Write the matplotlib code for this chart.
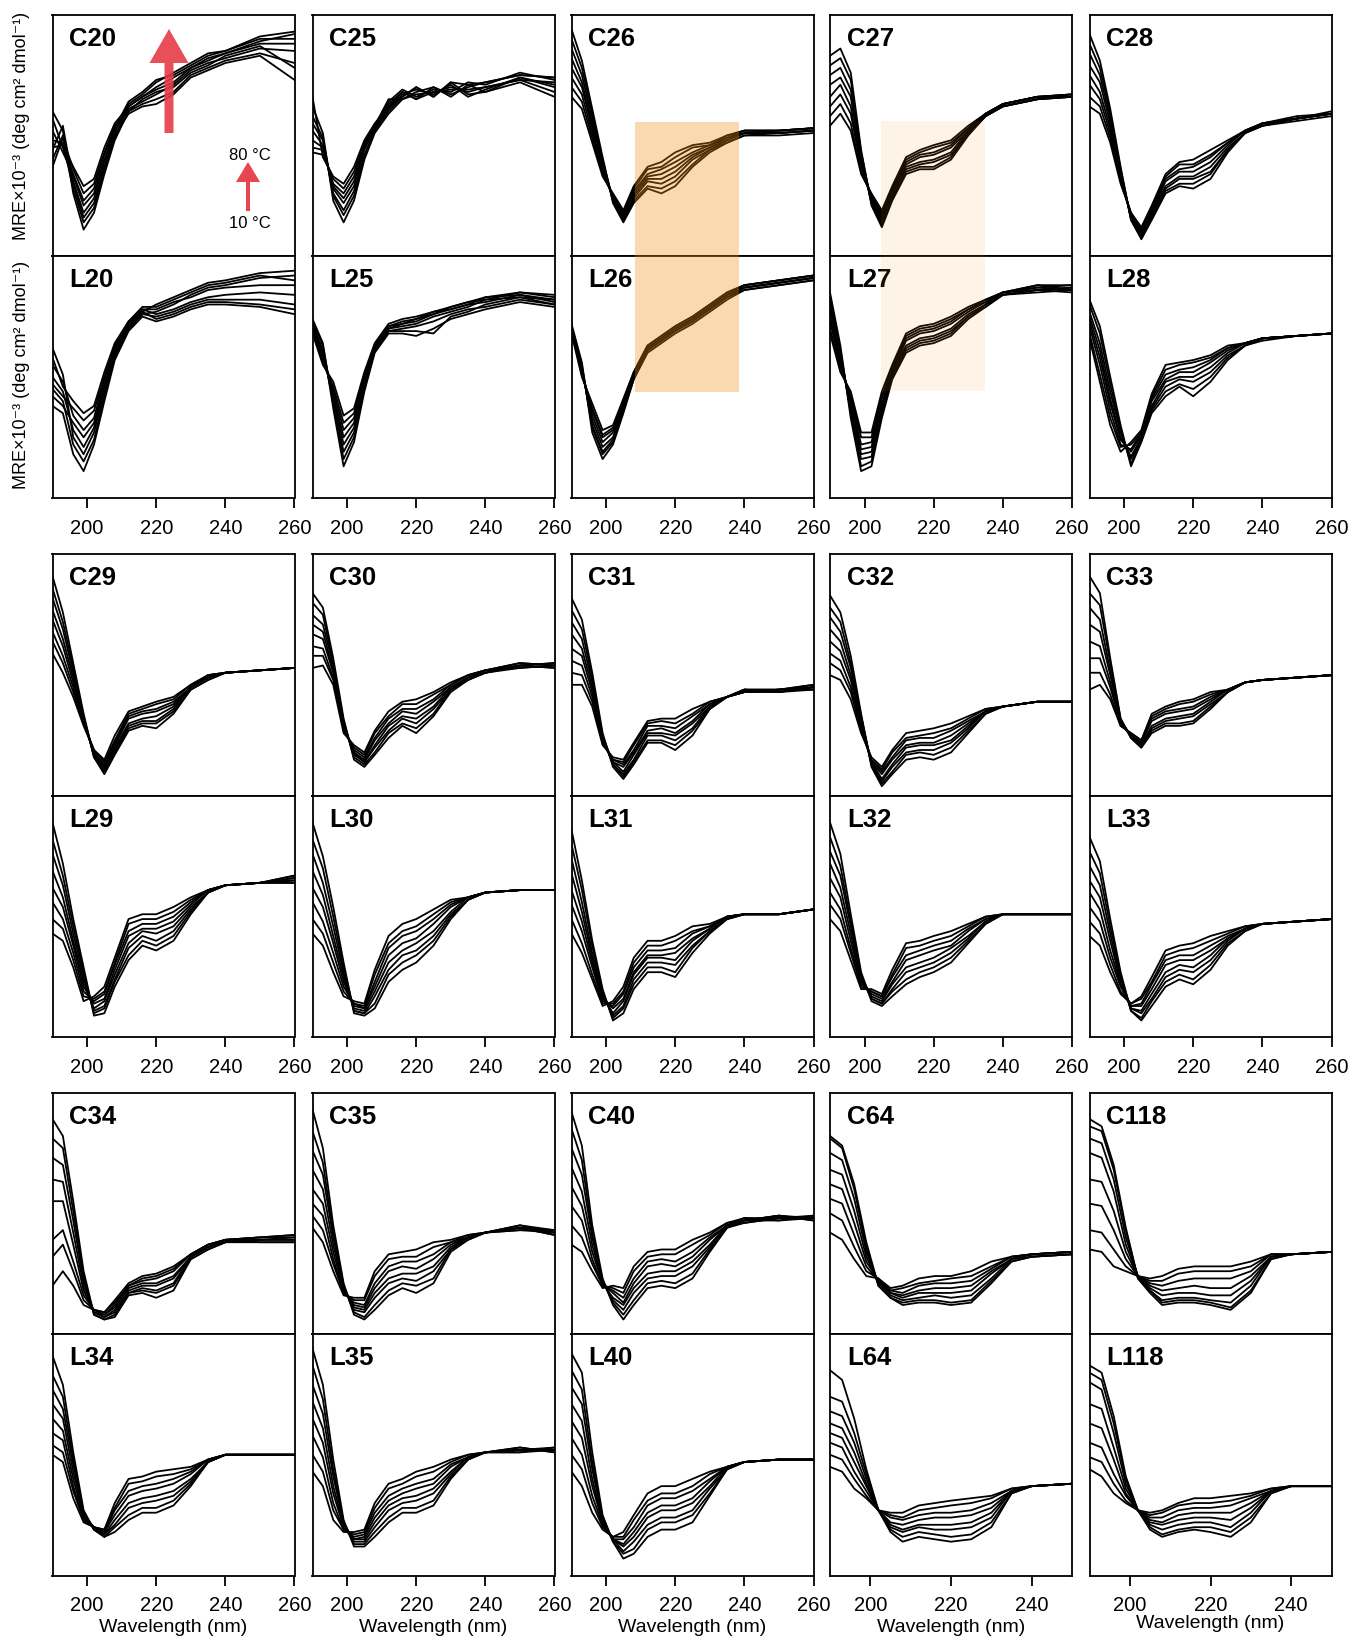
import numpy as np
import matplotlib
matplotlib.use('Agg')
import matplotlib.pyplot as plt
from matplotlib.patches import Rectangle, FancyArrow

plt.rcParams['font.family'] = ['Liberation Sans', 'DejaVu Sans']

# wavelength grid (nm); each panel table: rows = wavelength, columns = 10..80 C
WL = [190, 193, 196, 199, 202, 205, 208, 212, 216, 220, 225, 230, 235, 240, 250, 260]
TEMPS = [10, 20, 30, 40, 50, 60, 70, 80]
# values are read off the picture as % of panel height (no y scale shown)

C20 = [[60, 48, 44, 57, 40, 52, 37, 45], [52, 47, 54, 45, 50, 43, 49, 46], [26, 28, 30, 31, 33, 34, 36, 37],
       [11, 14, 16, 18, 21, 23, 26, 29], [18, 20, 22, 24, 26, 28, 30, 32], [34, 36, 37, 39, 40, 42, 43, 45],
       [48, 49, 50, 51, 52, 53, 54, 55], [60, 62, 59, 63, 61, 64, 60, 62], [63, 66, 62, 67, 64, 68, 65, 66],
       [65, 70, 63, 72, 67, 73, 68, 69], [68, 74, 67, 76, 71, 75, 70, 72], [75, 78, 74, 80, 77, 79, 76, 78],
       [78, 82, 77, 84, 80, 83, 79, 81], [81, 84, 80, 85, 82, 85, 83, 84], [84, 89, 83, 91, 86, 90, 87, 88],
       [80, 92, 73, 93, 85, 90, 78, 88]]
L20 = [[38, 45, 62, 50, 42, 55, 47, 58], [35, 40, 51, 44, 38, 48, 42, 46], [18, 22, 25, 28, 31, 34, 37, 40],
       [11, 15, 18, 21, 25, 28, 32, 35], [22, 24, 27, 29, 31, 33, 36, 38], [40, 42, 44, 46, 47, 49, 50, 52],
       [57, 58, 59, 60, 61, 62, 63, 64], [69, 70, 70, 71, 72, 72, 73, 73], [75, 76, 76, 77, 77, 78, 78, 79],
       [73, 77, 75, 80, 74, 78, 76, 79], [75, 80, 77, 83, 76, 81, 78, 82], [78, 84, 80, 86, 79, 83, 81, 85],
       [80, 87, 82, 89, 81, 86, 83, 88], [80, 88, 82, 90, 81, 87, 84, 89], [79, 91, 82, 93, 80, 88, 85, 92],
       [76, 92, 80, 94, 78, 88, 84, 90]]
C25 = [[62, 58, 55, 52, 48, 45, 43, 66], [51, 49, 48, 46, 45, 44, 42, 41], [23, 25, 26, 28, 29, 30, 32, 33],
       [14, 17, 19, 22, 24, 26, 28, 30], [23, 25, 27, 29, 31, 33, 35, 37], [40, 41, 42, 44, 45, 46, 47, 48],
       [51, 52, 52, 53, 53, 54, 54, 55], [59, 62, 60, 64, 61, 65, 63, 62], [65, 68, 66, 69, 67, 65, 68, 66],
       [67, 65, 70, 66, 69, 68, 65, 70], [68, 70, 66, 69, 67, 70, 68, 66], [70, 66, 72, 68, 71, 67, 69, 72],
       [68, 71, 67, 72, 66, 70, 69, 71], [70, 72, 68, 71, 69, 72, 70, 68], [73, 75, 72, 76, 74, 75, 73, 74],
       [72, 74, 66, 73, 70, 74, 68, 71]]
L25 = [[74, 73, 72, 71, 70, 70, 69, 68], [64, 63, 61, 60, 59, 57, 56, 55], [37, 39, 40, 42, 43, 45, 46, 48],
       [13, 16, 19, 22, 25, 28, 31, 34], [23, 25, 27, 29, 31, 33, 35, 37], [44, 45, 46, 47, 49, 50, 51, 52],
       [60, 61, 61, 62, 62, 63, 63, 64], [68, 69, 69, 70, 70, 71, 71, 72], [68, 69, 70, 71, 72, 72, 73, 74],
       [67, 69, 71, 72, 73, 74, 74, 75], [70, 68, 73, 75, 76, 77, 76, 77], [74, 75, 76, 77, 78, 78, 79, 79],
       [76, 77, 78, 79, 80, 80, 81, 81], [78, 80, 79, 82, 81, 83, 82, 83], [81, 83, 82, 85, 84, 85, 83, 84],
       [79, 82, 80, 84, 81, 83, 80, 82]]
C26 = [[94, 90, 86, 82, 78, 74, 70, 66], [81, 78, 75, 72, 70, 67, 64, 61], [61, 59, 57, 55, 53, 51, 49, 47],
       [41, 40, 39, 38, 36, 35, 34, 33], [22, 23, 23, 24, 24, 25, 25, 26], [14, 15, 15, 16, 17, 18, 18, 19],
       [22, 23, 24, 25, 26, 27, 28, 29], [28, 29, 31, 32, 33, 34, 36, 37], [26, 28, 30, 32, 34, 36, 37, 39],
       [29, 31, 33, 35, 37, 39, 41, 43], [37, 38, 40, 41, 42, 43, 45, 46], [43, 44, 44, 45, 45, 46, 46, 47],
       [47, 47, 48, 48, 49, 49, 50, 50], [50, 50, 51, 51, 51, 52, 52, 52], [50, 51, 51, 51, 52, 52, 52, 52],
       [51, 52, 52, 52, 53, 53, 53, 53]]
L26 = [[72, 71, 71, 70, 70, 69, 69, 68], [56, 55, 54, 53, 53, 52, 51, 50], [27, 29, 30, 32, 34, 36, 37, 39],
       [16, 18, 19, 21, 23, 25, 26, 28], [22, 23, 24, 25, 27, 28, 29, 30], [35, 36, 37, 38, 38, 39, 40, 41],
       [49, 49, 50, 50, 51, 51, 52, 52], [60, 61, 61, 62, 62, 62, 63, 63], [64, 65, 65, 66, 66, 66, 67, 67],
       [68, 69, 69, 70, 70, 70, 71, 71], [72, 73, 73, 74, 74, 74, 75, 75], [77, 78, 78, 79, 79, 79, 80, 80],
       [82, 83, 83, 84, 84, 84, 85, 85], [86, 86, 87, 87, 87, 88, 88, 88], [88, 88, 89, 89, 89, 90, 90, 90],
       [90, 90, 91, 91, 91, 92, 92, 92]]
C27 = [[83, 79, 75, 71, 66, 62, 58, 54], [86, 82, 78, 74, 71, 67, 63, 59], [76, 73, 69, 66, 62, 59, 55, 52],
       [44, 43, 41, 40, 38, 37, 35, 34], [21, 22, 22, 23, 24, 25, 25, 26], [12, 13, 14, 15, 16, 17, 18, 19],
       [23, 24, 25, 26, 26, 27, 28, 29], [34, 35, 36, 37, 38, 39, 40, 41], [36, 37, 38, 39, 41, 42, 43, 44],
       [36, 37, 39, 40, 42, 43, 45, 46], [40, 41, 42, 43, 45, 46, 47, 48], [50, 51, 51, 52, 52, 53, 53, 54],
       [58, 58, 58, 58, 59, 59, 59, 59], [62, 62, 62, 63, 63, 63, 63, 63], [65, 65, 65, 66, 66, 66, 66, 66],
       [66, 66, 66, 67, 66, 67, 66, 67]]
L27 = [[85, 83, 80, 78, 75, 73, 70, 68], [63, 61, 60, 58, 57, 55, 54, 52], [33, 35, 36, 38, 39, 41, 42, 44],
       [11, 13, 16, 18, 20, 22, 25, 27], [13, 15, 17, 19, 21, 23, 25, 27], [33, 35, 36, 38, 39, 41, 42, 44],
       [49, 50, 51, 52, 52, 53, 54, 55], [60, 61, 62, 63, 65, 66, 67, 68], [63, 64, 65, 66, 68, 69, 70, 71],
       [64, 65, 66, 67, 69, 70, 71, 72], [67, 68, 69, 70, 72, 73, 74, 75], [74, 75, 75, 76, 77, 78, 78, 79],
       [79, 79, 80, 80, 81, 81, 82, 82], [84, 84, 84, 85, 85, 85, 85, 85], [85, 86, 86, 87, 87, 88, 86, 88],
       [86, 87, 85, 88, 86, 88, 87, 86]]
C28 = [[92, 88, 84, 79, 75, 71, 66, 62], [81, 78, 75, 72, 68, 65, 62, 59], [61, 59, 57, 55, 53, 51, 49, 47],
       [37, 36, 35, 34, 33, 32, 31, 30], [15, 15, 16, 16, 17, 17, 18, 18], [7, 8, 9, 9, 10, 11, 11, 12],
       [15, 16, 17, 18, 18, 19, 20, 21], [26, 27, 28, 29, 31, 32, 33, 34], [29, 30, 32, 33, 35, 36, 38, 39],
       [28, 30, 32, 33, 35, 37, 38, 40], [32, 34, 35, 37, 39, 41, 42, 44], [43, 44, 44, 45, 46, 47, 47, 48],
       [51, 51, 51, 51, 52, 52, 52, 52], [54, 54, 54, 55, 55, 55, 55, 55], [56, 57, 57, 57, 57, 58, 57, 57],
       [58, 59, 59, 59, 59, 59, 60, 59]]
L28 = [[82, 80, 77, 75, 73, 71, 68, 66], [71, 68, 64, 61, 58, 55, 51, 48], [50, 47, 44, 41, 39, 36, 33, 30],
       [30, 28, 27, 25, 24, 22, 21, 19], [13, 14, 16, 17, 19, 20, 22, 23], [23, 24, 24, 25, 26, 27, 27, 28],
       [35, 36, 37, 38, 40, 41, 42, 43], [42, 44, 46, 48, 49, 51, 53, 55], [46, 47, 49, 50, 52, 53, 55, 56],
       [42, 45, 48, 50, 52, 54, 56, 57], [48, 50, 52, 54, 56, 57, 58, 59], [57, 58, 59, 60, 61, 62, 62, 63],
       [63, 63, 63, 64, 64, 64, 64, 64], [65, 66, 66, 66, 66, 66, 66, 66], [67, 67, 67, 67, 67, 67, 67, 67],
       [68, 68, 68, 68, 68, 68, 68, 68]]

C29 = [[91, 86, 82, 77, 73, 68, 64, 59], [76, 72, 69, 65, 62, 58, 55, 51], [55, 53, 51, 49, 47, 45, 43, 41],
       [34, 33, 32, 32, 31, 30, 30, 29], [16, 16, 17, 17, 18, 18, 19, 19], [9, 10, 11, 12, 12, 13, 14, 15],
       [17, 18, 19, 20, 21, 22, 23, 25], [27, 28, 29, 30, 32, 33, 34, 35], [29, 30, 31, 32, 34, 35, 36, 37],
       [28, 30, 31, 33, 35, 36, 38, 39], [34, 35, 36, 37, 38, 39, 40, 41], [44, 44, 45, 45, 45, 45, 46, 46],
       [48, 48, 49, 49, 49, 50, 50, 50], [51, 51, 51, 51, 51, 51, 51, 51], [52, 52, 52, 52, 52, 52, 52, 52],
       [53, 53, 53, 53, 53, 53, 53, 53]]
L29 = [[89, 82, 76, 69, 62, 56, 49, 43], [72, 67, 63, 58, 54, 49, 45, 40], [49, 46, 43, 40, 38, 35, 32, 29],
       [29, 27, 25, 23, 21, 19, 17, 15], [9, 10, 11, 12, 14, 15, 16, 17], [10, 12, 13, 15, 16, 18, 19, 21],
       [21, 23, 24, 26, 28, 30, 31, 33], [32, 34, 37, 39, 42, 44, 47, 49], [38, 40, 42, 44, 45, 47, 49, 51],
       [36, 38, 40, 43, 45, 47, 49, 51], [40, 42, 44, 46, 48, 50, 52, 54], [51, 52, 53, 54, 55, 56, 57, 58],
       [60, 60, 60, 60, 61, 61, 61, 61], [63, 63, 63, 63, 63, 63, 63, 63], [64, 64, 64, 64, 64, 64, 64, 64],
       [64, 65, 67, 66, 64, 65, 66, 67]]
C30 = [[84, 80, 75, 71, 67, 62, 58, 53], [78, 75, 71, 68, 65, 61, 58, 54], [57, 55, 54, 52, 51, 49, 48, 46],
       [32, 31, 30, 29, 29, 28, 27, 26], [15, 16, 17, 18, 18, 19, 20, 21], [12, 13, 14, 14, 15, 16, 17, 18],
       [17, 18, 20, 21, 23, 24, 26, 27], [24, 26, 27, 29, 30, 32, 33, 35], [29, 30, 32, 33, 35, 36, 38, 39],
       [26, 28, 30, 32, 34, 36, 38, 40], [33, 34, 36, 37, 39, 40, 42, 43], [43, 44, 44, 45, 45, 46, 46, 47],
       [48, 48, 49, 49, 49, 50, 50, 50], [51, 51, 51, 52, 51, 52, 52, 52], [53, 54, 54, 55, 54, 53, 54, 55],
       [54, 55, 53, 54, 55, 54, 53, 54]]
L30 = [[89, 82, 76, 69, 62, 56, 49, 43], [75, 70, 64, 59, 54, 48, 43, 38], [54, 50, 46, 42, 39, 35, 31, 27],
       [31, 29, 27, 25, 23, 21, 19, 17], [10, 11, 11, 12, 13, 14, 14, 15], [9, 10, 10, 11, 12, 12, 13, 14],
       [12, 14, 17, 19, 21, 23, 26, 28], [23, 26, 28, 31, 34, 37, 39, 42], [28, 31, 34, 36, 39, 42, 44, 47],
       [31, 34, 36, 39, 41, 44, 46, 49], [38, 40, 42, 44, 47, 49, 51, 53], [49, 50, 51, 52, 54, 55, 56, 57],
       [57, 57, 57, 58, 58, 58, 58, 58], [60, 60, 60, 60, 60, 60, 60, 60], [61, 61, 61, 61, 61, 61, 61, 61],
       [61, 61, 61, 61, 61, 61, 61, 61]]
C31 = [[82, 77, 72, 67, 61, 56, 51, 46], [73, 69, 65, 61, 58, 54, 50, 46], [51, 49, 47, 45, 43, 41, 39, 37],
       [26, 25, 24, 24, 23, 22, 22, 21], [12, 13, 13, 14, 14, 15, 15, 16], [7, 8, 9, 10, 12, 13, 14, 15],
       [13, 14, 15, 17, 18, 19, 21, 22], [22, 23, 25, 26, 27, 29, 30, 31], [22, 23, 25, 26, 28, 29, 31, 32],
       [19, 21, 23, 25, 26, 28, 30, 32], [25, 27, 28, 30, 31, 33, 34, 36], [36, 36, 37, 37, 38, 38, 39, 39],
       [41, 41, 41, 41, 41, 41, 41, 41], [43, 43, 44, 44, 43, 44, 44, 43], [43, 44, 44, 43, 44, 44, 43, 44],
       [44, 45, 46, 45, 44, 46, 45, 45]]
L31 = [[86, 80, 74, 68, 61, 55, 49, 43], [65, 61, 56, 52, 48, 44, 39, 35], [40, 38, 35, 33, 31, 29, 26, 24],
       [20, 19, 18, 17, 16, 15, 14, 13], [7, 8, 9, 10, 12, 13, 14, 15], [10, 12, 13, 15, 16, 18, 19, 21],
       [20, 22, 24, 26, 27, 29, 31, 33], [27, 29, 31, 33, 34, 36, 38, 40], [27, 29, 31, 33, 34, 36, 38, 40],
       [25, 27, 30, 32, 35, 37, 40, 42], [35, 37, 38, 40, 41, 43, 44, 46], [43, 44, 44, 45, 45, 46, 46, 47],
       [49, 49, 49, 50, 50, 50, 50, 50], [51, 51, 51, 51, 51, 51, 51, 51], [51, 51, 51, 51, 51, 51, 51, 51],
       [53, 53, 53, 53, 53, 53, 53, 53]]
C32 = [[83, 78, 74, 69, 64, 59, 55, 50], [76, 72, 68, 64, 60, 56, 52, 48], [58, 55, 53, 50, 48, 45, 43, 40],
       [34, 33, 32, 31, 29, 28, 27, 26], [12, 13, 13, 14, 14, 15, 15, 16], [4, 5, 6, 7, 9, 10, 11, 12],
       [9, 10, 12, 13, 15, 16, 18, 19], [15, 17, 18, 20, 21, 23, 24, 26], [16, 18, 19, 21, 22, 24, 25, 27],
       [15, 17, 19, 21, 22, 24, 26, 28], [18, 20, 22, 23, 25, 27, 28, 30], [26, 27, 28, 29, 30, 31, 32, 33],
       [34, 34, 35, 35, 35, 35, 36, 36], [37, 37, 37, 37, 37, 37, 37, 37], [39, 39, 39, 39, 39, 39, 39, 39],
       [39, 39, 39, 39, 39, 39, 39, 39]]
L32 = [[89, 83, 77, 72, 66, 60, 55, 49], [76, 71, 67, 62, 58, 53, 49, 44], [51, 48, 46, 43, 40, 37, 35, 32],
       [27, 26, 25, 24, 23, 22, 21, 20], [15, 16, 16, 17, 18, 19, 19, 20], [13, 14, 14, 15, 16, 17, 17, 18],
       [17, 19, 20, 22, 23, 25, 26, 28], [22, 24, 27, 29, 32, 34, 37, 39], [25, 27, 29, 31, 34, 36, 38, 40],
       [27, 29, 31, 33, 36, 38, 40, 42], [31, 33, 35, 37, 38, 40, 42, 44], [39, 40, 41, 42, 44, 45, 46, 47],
       [47, 47, 48, 48, 49, 49, 50, 50], [51, 51, 51, 51, 51, 51, 51, 51], [51, 51, 51, 51, 51, 51, 51, 51],
       [51, 51, 51, 51, 51, 51, 51, 51]]
C33 = [[91, 84, 78, 71, 64, 57, 51, 44], [84, 79, 73, 68, 62, 57, 51, 46], [57, 55, 52, 50, 47, 45, 42, 40],
       [32, 32, 31, 31, 30, 30, 29, 29], [24, 24, 25, 25, 25, 25, 26, 26], [20, 20, 21, 21, 22, 22, 23, 23],
       [26, 27, 28, 29, 31, 32, 33, 34], [29, 30, 31, 32, 34, 35, 36, 37], [29, 30, 32, 33, 35, 36, 38, 39],
       [30, 31, 33, 34, 36, 37, 39, 40], [36, 37, 38, 39, 40, 41, 42, 43], [43, 43, 43, 44, 44, 44, 44, 44],
       [47, 47, 47, 47, 47, 47, 47, 47], [48, 48, 48, 48, 48, 48, 48, 48], [49, 49, 49, 49, 49, 49, 49, 49],
       [50, 50, 50, 50, 50, 50, 50, 50]]
L33 = [[83, 77, 71, 65, 60, 54, 48, 42], [73, 68, 63, 58, 53, 48, 43, 38], [49, 46, 43, 40, 36, 33, 30, 27],
       [27, 26, 24, 23, 22, 21, 19, 18], [11, 11, 12, 12, 13, 13, 14, 14], [7, 8, 10, 11, 13, 14, 16, 17],
       [13, 15, 16, 18, 20, 22, 23, 25], [21, 23, 25, 27, 30, 32, 34, 36], [24, 26, 28, 30, 32, 34, 36, 38],
       [22, 24, 27, 29, 32, 34, 37, 39], [28, 30, 32, 34, 36, 38, 40, 42], [38, 39, 40, 41, 41, 42, 43, 44],
       [44, 44, 45, 45, 45, 45, 46, 46], [47, 47, 47, 47, 47, 47, 47, 47], [48, 48, 48, 48, 48, 48, 48, 48],
       [49, 49, 49, 49, 49, 49, 49, 49]]

C34 = [[89, 81, 73, 64, 55, 39, 32, 20], [82, 77, 70, 63, 55, 43, 37, 26], [55, 51, 47, 42, 37, 30, 26, 20],
       [26, 24, 22, 20, 18, 16, 14, 12], [8, 8, 9, 9, 9, 10, 10, 10], [6, 6, 7, 7, 8, 8, 9, 9],
       [7, 8, 9, 10, 11, 12, 13, 14], [16, 17, 17, 18, 19, 20, 20, 21], [17, 18, 19, 20, 21, 22, 23, 24],
       [15, 17, 18, 20, 21, 23, 24, 25], [18, 20, 21, 23, 24, 26, 27, 28], [31, 31, 32, 32, 32, 33, 33, 33],
       [35, 35, 36, 36, 36, 37, 37, 37], [38, 38, 38, 39, 39, 39, 39, 39], [38, 39, 39, 40, 40, 39, 38, 40],
       [38, 39, 40, 41, 40, 39, 38, 41]]
L34 = [[91, 83, 77, 71, 65, 59, 54, 50], [79, 74, 69, 65, 60, 56, 51, 47], [51, 48, 46, 43, 40, 37, 35, 32],
       [27, 26, 26, 25, 24, 23, 23, 22], [19, 19, 19, 20, 20, 20, 20, 20], [16, 16, 17, 17, 18, 18, 19, 19],
       [18, 20, 21, 23, 25, 27, 28, 30], [23, 25, 28, 30, 33, 35, 38, 40], [26, 28, 30, 32, 35, 37, 39, 41],
       [26, 28, 31, 33, 36, 38, 41, 43], [29, 31, 33, 35, 38, 40, 42, 44], [37, 38, 39, 40, 42, 43, 44, 45],
       [47, 47, 47, 47, 48, 48, 48, 48], [50, 50, 50, 50, 50, 50, 50, 50], [50, 50, 50, 50, 50, 50, 50, 50],
       [50, 50, 50, 50, 50, 50, 50, 50]]
C35 = [[93, 84, 76, 68, 60, 54, 49, 44], [77, 71, 66, 60, 54, 49, 43, 38], [45, 42, 40, 37, 34, 31, 29, 26],
       [21, 20, 20, 19, 18, 17, 17, 16], [8, 9, 10, 11, 12, 13, 14, 15], [6, 7, 9, 10, 11, 12, 14, 15],
       [10, 12, 15, 17, 19, 21, 24, 26], [16, 18, 21, 23, 26, 28, 31, 33], [19, 21, 23, 25, 28, 30, 32, 34],
       [17, 20, 22, 25, 27, 30, 32, 35], [21, 23, 26, 28, 31, 33, 36, 38], [34, 35, 35, 36, 37, 38, 38, 39],
       [39, 39, 40, 40, 40, 40, 41, 41], [42, 42, 42, 42, 42, 42, 42, 42], [44, 43, 44, 45, 44, 43, 44, 45],
       [42, 43, 41, 42, 43, 42, 41, 43]]
L35 = [[94, 87, 79, 72, 65, 58, 50, 43], [79, 73, 67, 61, 55, 49, 43, 37], [48, 44, 41, 37, 34, 30, 27, 23],
       [23, 22, 22, 21, 20, 19, 19, 18], [12, 13, 14, 15, 15, 16, 17, 18], [12, 13, 14, 15, 16, 17, 18, 19],
       [16, 18, 20, 22, 24, 26, 28, 30], [22, 24, 27, 29, 31, 33, 36, 38], [26, 28, 30, 32, 34, 36, 38, 40],
       [26, 28, 31, 33, 36, 38, 41, 43], [29, 31, 34, 36, 38, 40, 43, 45], [40, 41, 42, 43, 45, 46, 47, 48],
       [48, 48, 49, 49, 49, 49, 50, 50], [51, 51, 51, 51, 51, 51, 51, 51], [52, 53, 51, 52, 53, 52, 51, 52],
       [52, 51, 53, 52, 51, 53, 52, 52]]
C40 = [[92, 85, 77, 69, 61, 53, 45, 37], [78, 72, 66, 59, 53, 47, 40, 34], [45, 42, 40, 37, 34, 31, 29, 26],
       [23, 22, 22, 21, 21, 20, 20, 19], [12, 13, 14, 15, 17, 18, 19, 20], [6, 8, 10, 12, 13, 15, 17, 19],
       [12, 14, 17, 19, 21, 23, 26, 28], [19, 21, 23, 25, 28, 30, 32, 34], [20, 22, 24, 26, 29, 31, 33, 35],
       [19, 21, 24, 26, 28, 30, 33, 35], [23, 25, 28, 30, 32, 34, 37, 39], [34, 35, 36, 37, 39, 40, 41, 42],
       [44, 44, 45, 45, 45, 45, 46, 46], [46, 47, 47, 48, 47, 46, 48, 47], [48, 49, 47, 48, 49, 48, 47, 49],
       [48, 47, 49, 48, 47, 49, 48, 48]]
L40 = [[92, 85, 78, 71, 64, 57, 50, 43], [84, 77, 71, 64, 57, 50, 44, 37], [51, 47, 44, 40, 37, 33, 30, 26],
       [25, 24, 23, 22, 22, 21, 20, 19], [14, 14, 15, 15, 15, 15, 16, 16], [7, 9, 10, 12, 13, 15, 16, 18],
       [9, 11, 14, 16, 18, 20, 23, 25], [16, 19, 21, 24, 26, 29, 31, 34], [19, 22, 24, 27, 29, 32, 34, 37],
       [19, 22, 24, 27, 29, 32, 34, 37], [22, 25, 27, 30, 32, 35, 37, 40], [33, 34, 36, 37, 39, 40, 42, 43],
       [44, 44, 44, 45, 45, 45, 45, 45], [47, 47, 47, 47, 47, 47, 47, 47], [48, 48, 48, 48, 48, 48, 48, 48],
       [48, 48, 48, 48, 48, 48, 48, 48]]
C64 = [[82, 81, 75, 68, 62, 56, 50, 42], [78, 77, 72, 66, 60, 54, 47, 39], [62, 60, 56, 51, 46, 41, 36, 31],
       [38, 36, 34, 32, 30, 28, 26, 24], [20, 20, 21, 21, 22, 22, 23, 23], [15, 15, 16, 17, 17, 18, 18, 19],
       [12, 13, 14, 15, 16, 17, 19, 20], [13, 14, 15, 17, 18, 20, 21, 23], [13, 14, 16, 17, 19, 21, 22, 24],
       [12, 13, 15, 17, 19, 21, 23, 24], [13, 14, 16, 18, 20, 22, 24, 26], [21, 22, 23, 25, 26, 27, 28, 30],
       [30, 30, 31, 31, 31, 32, 32, 32], [32, 32, 32, 33, 33, 33, 33, 33], [33, 33, 33, 34, 34, 34, 34, 34],
       [33, 33, 33, 34, 34, 34, 34, 34]]
L64 = [[85, 74, 68, 63, 59, 55, 50, 45], [81, 72, 66, 61, 57, 53, 48, 43], [65, 59, 55, 51, 47, 43, 40, 36],
       [44, 42, 40, 38, 37, 35, 33, 32], [27, 27, 27, 27, 27, 27, 27, 27], [18, 19, 20, 21, 22, 24, 25, 26],
       [14, 16, 18, 19, 21, 23, 24, 26], [16, 18, 20, 21, 23, 25, 27, 29], [15, 17, 19, 21, 24, 26, 28, 30],
       [14, 16, 19, 21, 24, 26, 29, 31], [15, 17, 20, 22, 25, 27, 30, 32], [20, 22, 24, 26, 28, 30, 32, 33],
       [34, 34, 35, 35, 35, 35, 36, 36], [37, 37, 37, 37, 37, 37, 37, 37], [38, 38, 38, 38, 38, 38, 38, 38],
       [38, 38, 38, 38, 38, 38, 38, 38]]
C118 = [[89, 86, 81, 75, 64, 54, 43, 35], [86, 84, 79, 73, 63, 53, 42, 34], [70, 68, 64, 59, 51, 43, 35, 28],
        [44, 43, 40, 37, 34, 31, 28, 26], [23, 23, 24, 24, 24, 24, 24, 24], [17, 18, 18, 19, 20, 21, 22, 23],
        [12, 13, 14, 16, 18, 20, 22, 24], [13, 14, 15, 17, 19, 22, 25, 27], [13, 14, 15, 17, 20, 23, 26, 28],
        [12, 13, 14, 16, 19, 23, 26, 28], [10, 11, 13, 16, 19, 23, 26, 28], [17, 18, 20, 22, 24, 26, 28, 30],
        [31, 31, 32, 32, 32, 33, 33, 33], [33, 33, 33, 33, 33, 33, 33, 33], [34, 34, 34, 34, 34, 34, 34, 34],
        [34, 34, 34, 34, 34, 34, 34, 34]]
L118 = [[87, 84, 80, 71, 63, 55, 49, 44], [84, 81, 77, 69, 61, 53, 47, 41], [66, 63, 59, 53, 48, 42, 38, 34],
        [41, 40, 38, 36, 34, 33, 31, 30], [27, 27, 27, 27, 27, 27, 27, 27], [19, 20, 21, 22, 23, 24, 25, 26],
        [16, 17, 19, 21, 22, 24, 26, 27], [18, 19, 21, 23, 25, 27, 29, 30], [19, 20, 22, 24, 26, 28, 30, 32],
        [18, 20, 22, 24, 26, 28, 30, 32], [16, 18, 20, 23, 26, 29, 31, 33], [22, 24, 26, 28, 30, 32, 33, 34],
        [34, 34, 35, 35, 35, 35, 36, 36], [37, 37, 37, 37, 37, 37, 37, 37], [37, 37, 37, 37, 37, 37, 37, 37],
        [37, 37, 37, 37, 37, 37, 37, 37]]

GROUPS = [
    [('C20', C20, 'L20', L20), ('C25', C25, 'L25', L25), ('C26', C26, 'L26', L26),
     ('C27', C27, 'L27', L27), ('C28', C28, 'L28', L28)],
    [('C29', C29, 'L29', L29), ('C30', C30, 'L30', L30), ('C31', C31, 'L31', L31),
     ('C32', C32, 'L32', L32), ('C33', C33, 'L33', L33)],
    [('C34', C34, 'L34', L34), ('C35', C35, 'L35', L35), ('C40', C40, 'L40', L40),
     ('C64', C64, 'L64', L64), ('C118', C118, 'L118', L118)],
]
XMAX = [[260] * 5, [260] * 5, [260, 260, 260, 250, 250]]

W, H = 1353, 1648
fig = plt.figure(figsize=(W / 100, H / 100), dpi=100)

col_left = [52.5, 312.5, 571.5, 830, 1089.5]
group_top = [14.7, 554.4, 1092.5]
pw, ph = 242, 241.5
LW = 1.3


def px_axes(x, ytop, w, h):
    return fig.add_axes([x / W, 1 - (ytop + h) / H, w / W, h / H])


for g, group in enumerate(GROUPS):
    for c, (cname, cdata, lname, ldata) in enumerate(group):
        for r, (name, data) in enumerate([(cname, cdata), (lname, ldata)]):
            ax = px_axes(col_left[c], group_top[g] + r * ph, pw, ph)
            ax.plot(WL, np.array(data), color='black', lw=1.3, solid_joinstyle='round')
            ax.set_xlim(190, XMAX[g][c])
            ax.set_ylim(0, 100)
            ax.set_yticks([])
            for s in ax.spines.values():
                s.set_linewidth(LW)
            ax.text(0.07, 0.95, name, transform=ax.transAxes, fontsize=18.5,
                    fontweight='bold', va='top', ha='left')
            if r == 0:
                ax.set_xticks([])
            else:
                ticks = [t for t in [200, 220, 240, 260] if t <= XMAX[g][c]]
                ax.set_xticks(ticks)
                ax.tick_params(axis='x', direction='out', length=7, width=LW,
                               labelsize=14.5, pad=8)
                if g == 2:
                    ax.set_xlabel('Wavelength (nm)', fontsize=14,
                                  labelpad=0 if c == 4 else 2.5)

# y labels for the first column of the first group
ylab = 'MRE×10⁻³ (deg cm² dmol⁻¹)'
fig.text(22 / W, 1 - 126 / H, ylab, rotation=90, ha='center', va='center', fontsize=13)
fig.text(22 / W, 1 - 375 / H, ylab, rotation=90, ha='center', va='center', fontsize=13)

# highlighted wavelength windows (drawn over the curves)
inch = fig.dpi_scale_trans
fig.add_artist(Rectangle((634.5 / 100, (H - 392) / 100), 104.7 / 100, 270 / 100,
                         transform=inch, facecolor='#ed8c10', alpha=0.33, lw=0, zorder=10))
fig.add_artist(Rectangle((881 / 100, (H - 390.5) / 100), 104 / 100, 270 / 100,
                         transform=inch, facecolor='#ed8c10', alpha=0.1, lw=0, zorder=10))

# temperature arrows in C20
red = '#e63c46'
fig.add_artist(FancyArrow(1.69, (H - 133) / 100, 0, 1.04, width=0.09, head_width=0.39,
                          head_length=0.34, length_includes_head=True, transform=inch,
                          color=red, alpha=0.9, lw=0, zorder=11))
fig.add_artist(FancyArrow(2.48, (H - 211) / 100, 0, 0.49, width=0.04, head_width=0.24,
                          head_length=0.20, length_includes_head=True, transform=inch,
                          color=red, alpha=0.95, lw=0, zorder=11))
fig.text(250 / W, 1 - 155 / H, '80 °C', ha='center', va='center', fontsize=12)
fig.text(250 / W, 1 - 223 / H, '10 °C', ha='center', va='center', fontsize=12)

plt.savefig('out.png', dpi=100)
